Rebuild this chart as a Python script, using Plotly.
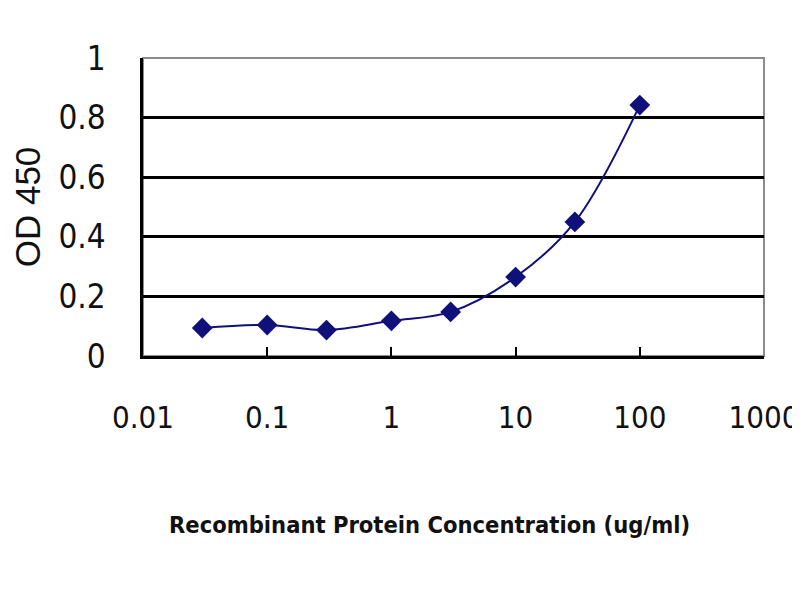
import plotly.graph_objects as go

concentration = [0.03, 0.1, 0.3, 1, 3, 10, 30, 100]
od450 = [0.094, 0.104, 0.087, 0.118, 0.148, 0.265, 0.45, 0.842]

x_tickvals = [0.01, 0.1, 1, 10, 100, 1000]
x_ticktext = ["0.01", "0.1", "1", "10", "100", "1000"]
y_tickvals = [0, 0.2, 0.4, 0.6, 0.8, 1]
y_ticktext = ["0", "0.2", "0.4", "0.6", "0.8", "1"]
x_title = "Recombinant Protein Concentration (ug/ml)"
y_title = "OD 450"

cond = "DejaVu Sans Condensed, DejaVu Sans, Liberation Sans, sans-serif"
xtick_font = dict(family=cond, size=31, color="#111111")
ytick_font = dict(family=cond, size=33, color="#111111")

fig = go.Figure()
fig.add_trace(go.Scatter(
    x=concentration, y=od450, mode="lines+markers",
    line=dict(color="#10107a", width=2, shape="spline", smoothing=1.0),
    marker=dict(symbol="diamond", size=16, color="#10107a"),
    showlegend=False,
))

fig.add_shape(type="rect", xref="paper", yref="paper", x0=0, y0=0, x1=1, y1=1,
              line=dict(color="#8c8c8c", width=2), layer="below")

fig.add_annotation(text="<b>" + x_title + "</b>", xref="paper", yref="paper",
                   x=0.462, y=-0.567, xanchor="center", yanchor="middle",
                   showarrow=False, font=dict(family=cond, size=23.5, color="#111111"))

fig.update_layout(
    width=800, height=600,
    margin=dict(l=135, r=44, t=50, b=252),
    paper_bgcolor="white", plot_bgcolor="white",
    font=dict(family=cond, color="#111111"),
    xaxis=dict(
        type="log", range=[-2, 3], automargin=False,
        tickvals=x_tickvals, ticktext=x_ticktext, tickfont=xtick_font,
        ticklabeloverflow="allow",
        ticks="inside", ticklen=9, tickwidth=2, tickcolor="black",
        showline=True, linecolor="black", linewidth=2.5,
        showgrid=False, zeroline=False,
        ticklabelstandoff=32,
    ),
    yaxis=dict(
        range=[0, 1], automargin=False,
        tickvals=y_tickvals, ticktext=y_ticktext, tickfont=ytick_font,
        ticks="", showline=True, linecolor="black", linewidth=2.5,
        showgrid=True, gridcolor="black", gridwidth=3,
        zeroline=False,
        ticklabelstandoff=28,
        title=dict(text=y_title, font=dict(size=35, family="Liberation Sans, Arial, sans-serif", color="#111111"),
                   standoff=15),
    ),
)

fig.write_html("out.html")
